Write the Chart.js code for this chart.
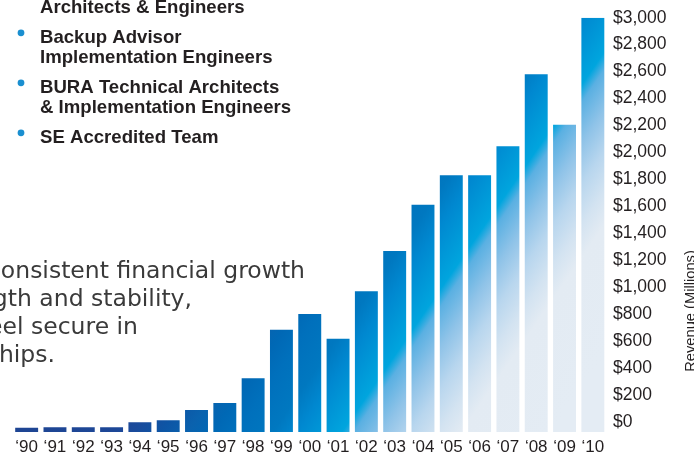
<!DOCTYPE html>
<html>
<head>
<meta charset="utf-8">
<title>Revenue (Millions)</title>
<script src="https://cdn.jsdelivr.net/npm/chart.js@4.4.0/dist/chart.umd.min.js"></script>
<style>
  html, body { margin: 0; padding: 0; background: #ffffff; }
  #wrap { width: 694px; height: 454px; position: relative; overflow: hidden; }
</style>
</head>
<body>
<div id="wrap"><canvas id="revenueChart" width="694" height="454"></canvas></div>
<script>
// Chart data
var years = ['\u201890', '\u201891', '\u201892', '\u201893', '\u201894', '\u201895', '\u201896',
  '\u201897', '\u201898', '\u201899', '\u201800', '\u201801', '\u201802', '\u201803',
  '\u201804', '\u201805', '\u201806', '\u201807', '\u201808', '\u201809', '\u201810'];
var revenue = [30, 35, 35, 35, 70, 85, 160, 210, 390, 740, 855, 675, 1020, 1310,
  1645, 1860, 1860, 2070, 2590, 2225, 3000];
var tickValues = [0, 200, 400, 600, 800, 1000, 1200, 1400, 1600, 1800, 2000,
  2200, 2400, 2600, 2800, 3000];
var axisTitle = 'Revenue (Millions)';

// Side copy around the chart
var bulletItems = [
  ['Architects & Engineers'],
  ['Backup Advisor', 'Implementation Engineers'],
  ['BURA Technical Architects', '& Implementation Engineers'],
  ['SE Accredited Team']
];
var paragraphLines = ['consistent financial growth', 'strength and stability,', 'feel secure in', 'relationships.'];
var paragraphEnds = [305, 192, 138, 55];

var darkText = '#231f20';
var cachedGradient = null;

// Diagonal blue fade laid across the plot area
var gradientStops = [
  [0, '#1e4593'], [0.172, '#1d4797'], [0.209, '#1a4b9c'], [0.26, '#0d55a5'],
  [0.31, '#0a62ae'], [0.356, '#0068b5'], [0.402, '#0070bc'], [0.471, '#0078c0'],
  [0.517, '#0088d0'], [0.602, '#00a5de'], [0.625, '#5ab0e2'], [0.678, '#8fc3e8'],
  [0.731, '#b8d6ee'], [0.784, '#d3e3f1'], [0.828, '#e3ebf3'], [1, '#e4ecf4']
];

var barGradient = function (context) {
  var chart = context.chart;
  var area = chart.chartArea;
  if (!area) return '#0078c0';
  if (cachedGradient) return cachedGradient;
  var w = area.right - area.left;
  var h = area.bottom - area.top;
  var g = chart.ctx.createLinearGradient(area.left + 0.3458 * w, area.top + 0.3205 * h,
    area.left + 0.948 * w, area.top + 0.917 * h);
  gradientStops.forEach(function (s) { g.addColorStop(s[0], s[1]); });
  cachedGradient = g;
  return g;
};

// Text drawn around the chart (bullets, paragraph, rotated axis title)
var sideTextPlugin = {
  id: 'sideText',
  afterDraw: function (chart) {
    var ctx = chart.ctx;
    ctx.save();

    // bullet list
    ctx.font = 'bold 18.6px "Liberation Sans", Arial, sans-serif';
    ctx.fillStyle = darkText;
    ctx.textAlign = 'left';
    ctx.textBaseline = 'alphabetic';
    var y = 13.3;
    bulletItems.forEach(function (item, i) {
      if (i > 0) {
        ctx.fillStyle = '#1a8fd0';
        ctx.beginPath();
        ctx.arc(21, y - 10.5, 3.4, 0, Math.PI * 2);
        ctx.fill();
        ctx.fillStyle = darkText;
      }
      item.forEach(function (line, j) {
        ctx.fillText(line, 40, y);
        y += (j === item.length - 1) ? 30 : 20;
      });
    });

    // paragraph (left part runs off the page)
    ctx.font = '23.5px "DejaVu Sans", Verdana, sans-serif';
    ctx.fillStyle = '#3a3a3a';
    ctx.textAlign = 'right';
    paragraphLines.forEach(function (line, i) {
      ctx.fillText(line, paragraphEnds[i], 278.3 + i * 27.8);
    });

    // axis title, reading bottom to top
    ctx.font = '14.7px "Liberation Sans", Arial, sans-serif';
    ctx.fillStyle = darkText;
    ctx.textAlign = 'center';
    ctx.translate(695.2, 311);
    ctx.rotate(-Math.PI / 2);
    ctx.fillText(axisTitle, 0, 0);
    ctx.restore();
  }
};

var ctx = document.getElementById('revenueChart').getContext('2d');
var revenueChart = new Chart(ctx, {
  type: 'bar',
  data: {
    labels: years,
    datasets: [{
      label: axisTitle,
      data: revenue,
      yAxisID: 'y',
      backgroundColor: barGradient,
      borderWidth: 0,
      barPercentage: 0.81,
      categoryPercentage: 1
    }]
  },
  options: {
    responsive: false,
    animation: false,
    layout: { padding: { left: 12.5, top: 17.7, right: 0, bottom: 0 } },
    plugins: {
      legend: { display: false },
      tooltip: { enabled: false }
    },
    scales: {
      x: {
        offset: true,
        grid: { display: false, drawTicks: false },
        border: { display: false },
        ticks: {
          autoSkip: false,
          maxRotation: 0,
          padding: 5,
          color: darkText,
          font: { family: '"Liberation Sans", Arial, sans-serif', size: 17 }
        },
        afterFit: function (scale) { scale.height = 22; }
      },
      y: { display: false, min: 0, max: 3000 },
      yLabels: {
        position: 'right',
        min: -76.5,
        max: 3000,
        grid: { display: false, drawTicks: false },
        border: { display: false },
        ticks: {
          padding: 6,
          color: darkText,
          font: { family: '"Liberation Sans", Arial, sans-serif', size: 17.5 },
          callback: function (value) { return '$' + value.toLocaleString('en-US'); }
        },
        afterBuildTicks: function (scale) {
          scale.ticks = tickValues.map(function (v) { return { value: v }; });
        },
        afterFit: function (scale) { scale.width = 87; }
      }
    }
  },
  plugins: [sideTextPlugin]
});
</script>
</body>
</html>
